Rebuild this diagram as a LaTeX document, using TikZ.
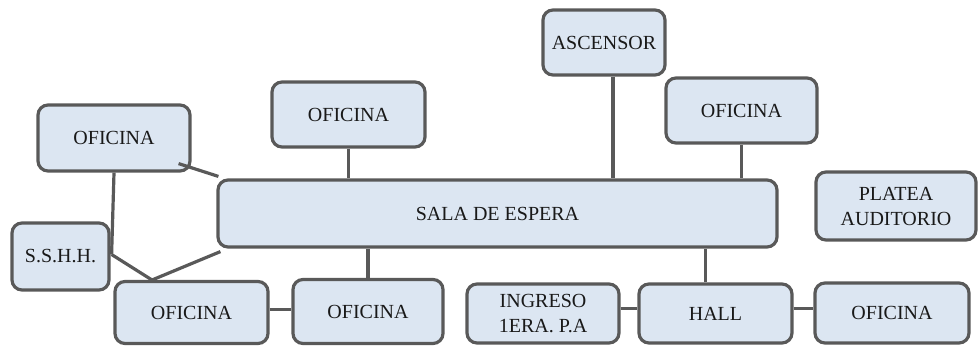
\documentclass[tikz,border=0pt]{standalone}
\usepackage{fontspec}
\setmainfont{Liberation Serif}
\definecolor{boxfill}{HTML}{DCE6F2}
\definecolor{boxline}{HTML}{595959}
\tikzset{
  room/.style={draw=boxline, fill=boxfill, line width=3.2pt, rounded corners=10pt,
    inner sep=0pt, align=center, font=\fontsize{20}{25}\selectfont, text=black!90},
  link/.style={draw=boxline, line width=3.2pt}
}
\begin{document}
\begin{tikzpicture}[x=1pt, y=-1pt]
\useasboundingbox (0,0) rectangle (979,346);
\coordinate (j) at (152,280);
\node[room, minimum width=559pt, minimum height=67pt] (sala) at (497.5,213.5) {SALA DE ESPERA};
\node[room, minimum width=152pt, minimum height=66pt] (of1) at (114,138) {OFICINA};
\node[room, minimum width=97pt, minimum height=67pt] (sshh) at (60.5,256.5) {S.S.H.H.};
\node[room, minimum width=153pt, minimum height=62pt] (of2) at (191.5,312.5) {OFICINA};
\node[room, minimum width=150pt, minimum height=64pt] (of3) at (368,311.5) {OFICINA};
\node[room, minimum width=153pt, minimum height=65pt] (of4) at (348.5,114.5) {OFICINA};
\node[room, minimum width=122pt, minimum height=65pt] (asc) at (604,42.5) {ASCENSOR};
\node[room, minimum width=151pt, minimum height=65pt] (of5) at (741.5,110.5) {OFICINA};
\node[room, minimum width=160pt, minimum height=68pt] (plat) at (896,206) {PLATEA\\AUDITORIO};
\node[room, minimum width=152pt, minimum height=59pt] (ing) at (543,313.5) {INGRESO\\1ERA. P.A};
\node[room, minimum width=153pt, minimum height=59pt] (hall) at (715.5,313.5) {HALL};
\node[room, minimum width=154pt, minimum height=60pt] (of6) at (892,313) {OFICINA};
% connectors
\draw[link] (of4.south) -- (of4.south |- sala.north);
\draw[link] ([xshift=9pt]asc.south) -- ([xshift=9pt]asc.south |- sala.north);
\draw[link] (of5.south) -- (of5.south |- sala.north);
\draw[link] (of3.north) -- (of3.north |- sala.south);
\draw[link] ([xshift=-10pt]hall.north) -- ([xshift=-10pt]hall.north |- sala.south);
\draw[link] ([yshift=3pt]of2.east) -- ([yshift=3pt]of2.east -| of3.west);
\draw[link] ([yshift=5pt]ing.east) -- ([yshift=5pt]ing.east -| hall.west);
\draw[link] ([yshift=5pt]hall.east) -- ([yshift=5pt]hall.east -| of6.west);
\draw[link] ([xshift=-13pt,yshift=9pt]of1.south east) -- ([xshift=2pt,yshift=2pt]sala.north west);
\draw[link] (of1.south) -- ([xshift=1pt,yshift=2pt]sshh.east);
\draw[link] ([xshift=1pt,yshift=2pt]sshh.east) -- (j);
\draw[link] (j) -- ([xshift=4pt,yshift=-3pt]sala.south west);
\end{tikzpicture}
\end{document}
